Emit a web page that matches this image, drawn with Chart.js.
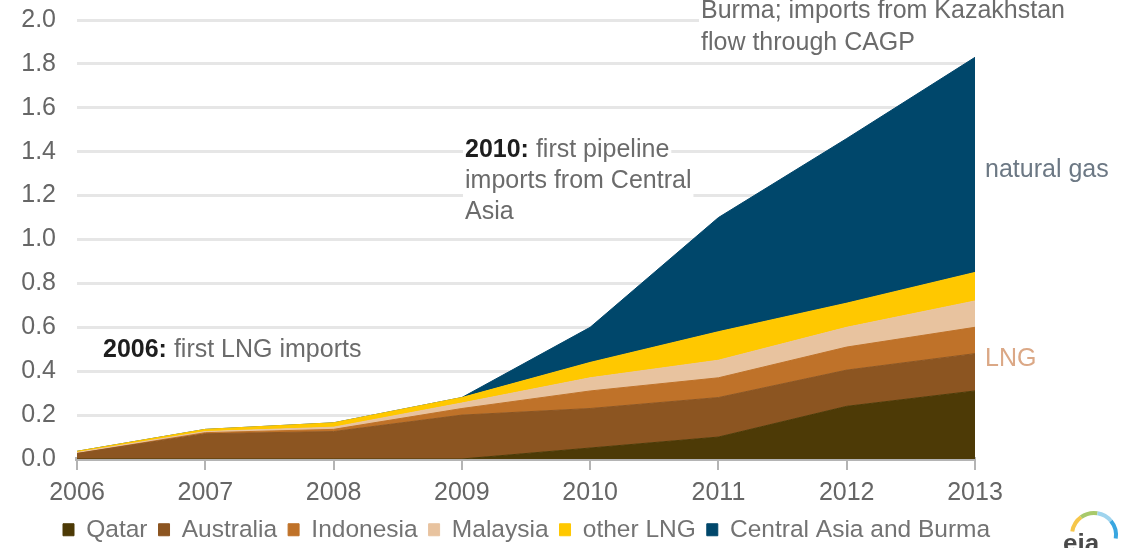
<!DOCTYPE html>
<html>
<head>
<meta charset="utf-8">
<script src="https://cdn.jsdelivr.net/npm/chart.js@4.4.1/dist/chart.umd.min.js"></script>
<style>
  html, body { margin: 0; padding: 0; background: #ffffff; }
  #wrap { width: 1140px; height: 548px; position: relative; }
</style>
</head>
<body>
<div id="wrap"><canvas id="c"></canvas></div>
<script>
// ---- data ----
const years = ['2006', '2007', '2008', '2009', '2010', '2011', '2012', '2013'];
const qatar       = [0.000, 0.000, 0.000, 0.000, 0.050, 0.100, 0.240, 0.310];
const australia   = [0.025, 0.115, 0.125, 0.200, 0.180, 0.180, 0.165, 0.170];
const indonesia   = [0.000, 0.005, 0.010, 0.030, 0.080, 0.090, 0.105, 0.120];
const malaysia    = [0.005, 0.005, 0.010, 0.025, 0.060, 0.080, 0.090, 0.120];
const otherLNG    = [0.005, 0.010, 0.020, 0.025, 0.070, 0.130, 0.110, 0.130];
const centralAsia = [0.000, 0.000, 0.000, 0.000, 0.160, 0.520, 0.750, 0.980];
const seriesNames = ['Qatar', 'Australia', 'Indonesia', 'Malaysia', 'other LNG', 'Central Asia and Burma'];
const yMin = 0, yMax = 2.0, yStep = 0.2;

// ---- fonts ----
function hasFont(name) {
  const c = document.createElement('canvas').getContext('2d');
  const s = 'abcdefghijklmnop0123456789';
  c.font = '40px monospace';
  const w1 = c.measureText(s).width;
  c.font = '40px "' + name + '", monospace';
  const w2 = c.measureText(s).width;
  return Math.abs(w1 - w2) > 0.5;
}
const narrow = hasFont('Liberation Sans Narrow');
const tickFont = narrow
  ? { family: '"Liberation Sans Narrow", "Liberation Sans", Arial, sans-serif', size: 30 }
  : { family: '"Liberation Sans", Arial, sans-serif', size: 25 };
const FAM = '"Liberation Sans", Arial, Helvetica, sans-serif';

const colors = ['#4d3a06', '#8c5521', '#bf7229', '#e8c39f', '#ffc800', '#00476b'];
const values = [qatar, australia, indonesia, malaysia, otherLNG, centralAsia];

const datasets = values.map((v, i) => ({
  label: seriesNames[i],
  data: v,
  backgroundColor: colors[i],
  borderColor: colors[i],
  borderWidth: 1,
  fill: i === 0 ? 'origin' : '-1',
  pointRadius: 0,
  tension: 0
}));

// shift the bottom legend so that it starts under the y labels like the reference
const legendShift = {
  id: 'legendShift',
  afterLayout(chart) {
    if (chart.legend) {
      chart.legend.left += 52;
      chart.legend.right += 52;
    }
  }
};

// ---- annotations ----
const annot = {
  id: 'annot',
  afterDraw(chart) {
    const ctx = chart.ctx;
    ctx.save();
    ctx.textAlign = 'left';
    ctx.textBaseline = 'alphabetic';
    const reg = '25px ' + FAM;
    const bold = 'bold 25px ' + FAM;
    function bg(x, y, w) {
      ctx.fillStyle = '#ffffff';
      ctx.fillRect(x - 2, y - 26, w + 4, 36);
    }
    function line(x, y, boldPart, rest) {
      ctx.font = bold;
      const wb = boldPart ? ctx.measureText(boldPart).width : 0;
      ctx.font = reg;
      const wr = ctx.measureText(rest).width;
      bg(x, y, wb + wr);
      if (boldPart) {
        ctx.font = bold; ctx.fillStyle = '#1e1e1e';
        ctx.fillText(boldPart, x, y);
      }
      ctx.font = reg; ctx.fillStyle = '#6b6b6b';
      ctx.fillText(rest, x + wb, y);
    }
    line(103, 357, '2006:', ' first LNG imports');
    line(465, 157, '2010:', ' first pipeline');
    line(465, 188, '', 'imports from Central');
    line(465, 219, '', 'Asia');
    line(701, 18, '', 'Burma; imports from Kazakhstan');
    line(701, 50, '', 'flow through CAGP');

    const xr = chart.chartArea.right + 10;
    ctx.font = reg;
    ctx.fillStyle = '#6c7884';
    ctx.fillText('natural gas', xr, 177);
    ctx.fillStyle = '#dba886';
    ctx.fillText('LNG', xr, 366);

    // small eia logo
    const cx = 1094, cy = 535, r = 22;
    const segs = [['#f6c64a', 1.05, 1.30], ['#a8c96a', 1.30, 1.55], ['#9fd4ee', 1.55, 1.78], ['#39a6e0', 1.78, 2.05]];
    ctx.lineWidth = 4;
    segs.forEach(s => {
      ctx.strokeStyle = s[0];
      ctx.beginPath();
      ctx.arc(cx, cy, r, Math.PI * s[1], Math.PI * s[2]);
      ctx.stroke();
    });
    ctx.font = 'bold 26px ' + FAM;
    ctx.fillStyle = '#4a4a4a';
    ctx.fillText('eia', 1063, 552);
    ctx.restore();
  }
};

new Chart(document.getElementById('c'), {
  type: 'line',
  data: { labels: years, datasets: datasets },
  options: {
    responsive: true,
    maintainAspectRatio: false,
    animation: false,
    layout: { padding: { top: 20, right: 0, bottom: -4, left: 0 } },
    plugins: {
      legend: {
        position: 'bottom',
        align: 'start',
        labels: {
          boxWidth: 11,
          boxHeight: 12,
          padding: 11,
          color: '#737373',
          font: { family: FAM, size: 24.5 }
        }
      },
      tooltip: { enabled: false }
    },
    scales: {
      x: {
        offset: false,
        grid: { display: true, drawOnChartArea: false, drawTicks: true, tickLength: 11, color: '#b4b4b4', lineWidth: 2 },
        border: { display: true, color: '#b4b4b4', width: 4 },
        ticks: { color: '#666666', font: tickFont, padding: 8, maxRotation: 0, autoSkip: false },
        afterFit(s) { s.height = 47.5; }
      },
      y: {
        stacked: true,
        min: yMin,
        max: yMax,
        ticks: { stepSize: yStep, padding: 0, color: '#666666', font: tickFont, callback: v => Number(v).toFixed(1) },
        grid: { color: '#e6e6e6', lineWidth: 3, drawTicks: true, tickLength: 21, tickColor: 'rgba(0,0,0,0)' },
        border: { display: false },
        afterFit(s) { s.width = 77; }
      },
      yr: {
        type: 'linear',
        position: 'right',
        display: true,
        grid: { display: false },
        ticks: { display: false },
        border: { display: false },
        afterFit(s) { s.width = 165; }
      }
    }
  },
  plugins: [annot, legendShift]
});
</script>
</body>
</html>
